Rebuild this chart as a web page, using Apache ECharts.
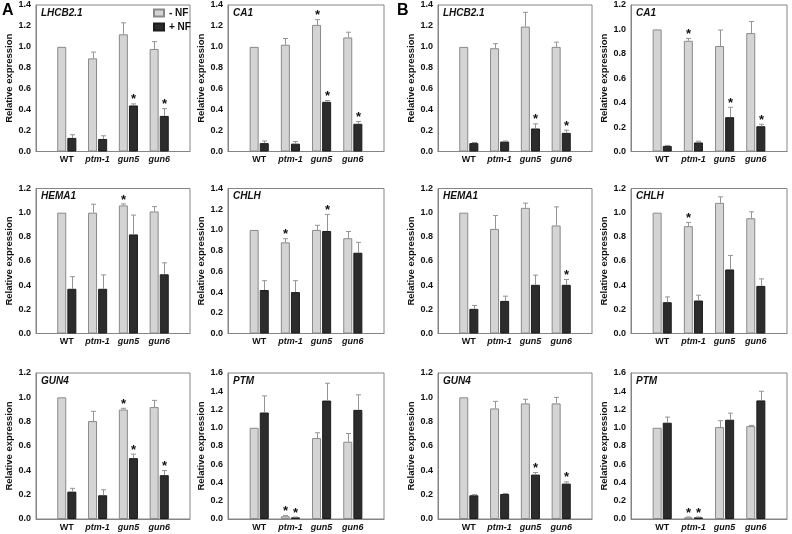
<!DOCTYPE html>
<html><head><meta charset="utf-8">
<script src="https://cdn.jsdelivr.net/npm/echarts@6/dist/echarts.min.js"></script>
<style>html,body{margin:0;padding:0;background:#fff}#c{width:792px;height:534px}</style>
</head><body><div id="c"></div>
<script>
const categories = ['WT', 'ptm-1', 'gun5', 'gun6'];
const seriesNames = ['- NF', '+ NF'];

// ---------- Panel A ----------
const A_LHCB21_minusNF = [1.00, 0.89, 1.12, 0.98];
const A_LHCB21_minusNF_err = [0, 0.06, 0.11, 0.07];
const A_LHCB21_plusNF = [0.13, 0.12, 0.44, 0.34];
const A_LHCB21_plusNF_err = [0.03, 0.03, 0.015, 0.07];
const A_LHCB21_star_minusNF = [0, 0, 0, 0];
const A_LHCB21_star_plusNF = [0, 0, 1, 1];

const A_CA1_minusNF = [1.00, 1.02, 1.21, 1.09];
const A_CA1_minusNF_err = [0, 0.06, 0.05, 0.05];
const A_CA1_plusNF = [0.08, 0.075, 0.475, 0.265];
const A_CA1_plusNF_err = [0.02, 0.02, 0.012, 0.022];
const A_CA1_star_minusNF = [0, 0, 1, 0];
const A_CA1_star_plusNF = [0, 0, 1, 1];

const A_HEMA1_minusNF = [1.00, 1.00, 1.06, 1.01];
const A_HEMA1_minusNF_err = [0, 0.07, 0.012, 0.04];
const A_HEMA1_plusNF = [0.37, 0.37, 0.82, 0.49];
const A_HEMA1_plusNF_err = [0.10, 0.115, 0.16, 0.095];
const A_HEMA1_star_minusNF = [0, 0, 1, 0];
const A_HEMA1_star_plusNF = [0, 0, 0, 0];

const A_CHLH_minusNF = [1.00, 0.88, 1.00, 0.92];
const A_CHLH_minusNF_err = [0, 0.035, 0.045, 0.065];
const A_CHLH_plusNF = [0.42, 0.40, 0.99, 0.78];
const A_CHLH_plusNF_err = [0.09, 0.11, 0.16, 0.10];
const A_CHLH_star_minusNF = [0, 1, 0, 0];
const A_CHLH_star_plusNF = [0, 0, 1, 0];

const A_GUN4_minusNF = [1.00, 0.805, 0.90, 0.92];
const A_GUN4_minusNF_err = [0, 0.08, 0.01, 0.055];
const A_GUN4_plusNF = [0.225, 0.195, 0.50, 0.36];
const A_GUN4_plusNF_err = [0.027, 0.045, 0.033, 0.038];
const A_GUN4_star_minusNF = [0, 0, 1, 0];
const A_GUN4_star_plusNF = [0, 0, 1, 1];

const A_PTM_minusNF = [1.00, 0.03, 0.887, 0.847];
const A_PTM_minusNF_err = [0, 0.007, 0.058, 0.09];
const A_PTM_plusNF = [1.167, 0.018, 1.298, 1.196];
const A_PTM_plusNF_err = [0.182, 0.004, 0.19, 0.165];
const A_PTM_star_minusNF = [0, 1, 0, 0];
const A_PTM_star_plusNF = [0, 1, 0, 0];

// ---------- Panel B ----------
const B_LHCB21_minusNF = [1.00, 0.987, 1.194, 1.00];
const B_LHCB21_minusNF_err = [0, 0.043, 0.136, 0.045];
const B_LHCB21_plusNF = [0.08, 0.095, 0.22, 0.178];
const B_LHCB21_plusNF_err = [0.006, 0.005, 0.044, 0.026];
const B_LHCB21_star_minusNF = [0, 0, 0, 0];
const B_LHCB21_star_plusNF = [0, 0, 1, 1];

const B_CA1_minusNF = [1.00, 0.907, 0.864, 0.97];
const B_CA1_minusNF_err = [0, 0.019, 0.131, 0.095];
const B_CA1_plusNF = [0.046, 0.074, 0.281, 0.207];
const B_CA1_plusNF_err = [0.004, 0.01, 0.081, 0.016];
const B_CA1_star_minusNF = [0, 1, 0, 0];
const B_CA1_star_plusNF = [0, 0, 1, 1];

const B_HEMA1_minusNF = [1.00, 0.866, 1.04, 0.894];
const B_HEMA1_minusNF_err = [0, 0.111, 0.039, 0.154];
const B_HEMA1_plusNF = [0.204, 0.27, 0.403, 0.403];
const B_HEMA1_plusNF_err = [0.028, 0.039, 0.08, 0.044];
const B_HEMA1_star_minusNF = [0, 0, 0, 0];
const B_HEMA1_star_plusNF = [0, 0, 0, 1];

const B_CHLH_minusNF = [1.00, 0.888, 1.081, 0.954];
const B_CHLH_minusNF_err = [0, 0.031, 0.05, 0.053];
const B_CHLH_plusNF = [0.259, 0.273, 0.53, 0.394];
const B_CHLH_plusNF_err = [0.044, 0.044, 0.116, 0.058];
const B_CHLH_star_minusNF = [0, 1, 0, 0];
const B_CHLH_star_plusNF = [0, 0, 0, 0];

const B_GUN4_minusNF = [1.00, 0.909, 0.95, 0.95];
const B_GUN4_minusNF_err = [0, 0.058, 0.034, 0.05];
const B_GUN4_plusNF = [0.195, 0.206, 0.365, 0.291];
const B_GUN4_plusNF_err = [0.005, 0.004, 0.017, 0.014];
const B_GUN4_star_minusNF = [0, 0, 0, 0];
const B_GUN4_star_plusNF = [0, 0, 1, 1];

const B_PTM_minusNF = [1.00, 0.018, 1.007, 1.018];
const B_PTM_minusNF_err = [0, 0.004, 0.07, 0.008];
const B_PTM_plusNF = [1.055, 0.018, 1.088, 1.30];
const B_PTM_plusNF_err = [0.062, 0.004, 0.072, 0.10];
const B_PTM_star_minusNF = [0, 1, 0, 0];
const B_PTM_star_plusNF = [0, 1, 0, 0];

// panel definitions: [title, ymax, minus, minusErr, plus, plusErr, starMinus, starPlus, col, row]
const panels = [
  ['LHCB2.1', 1.4, A_LHCB21_minusNF, A_LHCB21_minusNF_err, A_LHCB21_plusNF, A_LHCB21_plusNF_err, A_LHCB21_star_minusNF, A_LHCB21_star_plusNF, 0, 0],
  ['CA1', 1.4, A_CA1_minusNF, A_CA1_minusNF_err, A_CA1_plusNF, A_CA1_plusNF_err, A_CA1_star_minusNF, A_CA1_star_plusNF, 1, 0],
  ['HEMA1', 1.2, A_HEMA1_minusNF, A_HEMA1_minusNF_err, A_HEMA1_plusNF, A_HEMA1_plusNF_err, A_HEMA1_star_minusNF, A_HEMA1_star_plusNF, 0, 1],
  ['CHLH', 1.4, A_CHLH_minusNF, A_CHLH_minusNF_err, A_CHLH_plusNF, A_CHLH_plusNF_err, A_CHLH_star_minusNF, A_CHLH_star_plusNF, 1, 1],
  ['GUN4', 1.2, A_GUN4_minusNF, A_GUN4_minusNF_err, A_GUN4_plusNF, A_GUN4_plusNF_err, A_GUN4_star_minusNF, A_GUN4_star_plusNF, 0, 2],
  ['PTM', 1.6, A_PTM_minusNF, A_PTM_minusNF_err, A_PTM_plusNF, A_PTM_plusNF_err, A_PTM_star_minusNF, A_PTM_star_plusNF, 1, 2],
  ['LHCB2.1', 1.4, B_LHCB21_minusNF, B_LHCB21_minusNF_err, B_LHCB21_plusNF, B_LHCB21_plusNF_err, B_LHCB21_star_minusNF, B_LHCB21_star_plusNF, 2, 0],
  ['CA1', 1.2, B_CA1_minusNF, B_CA1_minusNF_err, B_CA1_plusNF, B_CA1_plusNF_err, B_CA1_star_minusNF, B_CA1_star_plusNF, 3, 0],
  ['HEMA1', 1.2, B_HEMA1_minusNF, B_HEMA1_minusNF_err, B_HEMA1_plusNF, B_HEMA1_plusNF_err, B_HEMA1_star_minusNF, B_HEMA1_star_plusNF, 2, 1],
  ['CHLH', 1.2, B_CHLH_minusNF, B_CHLH_minusNF_err, B_CHLH_plusNF, B_CHLH_plusNF_err, B_CHLH_star_minusNF, B_CHLH_star_plusNF, 3, 1],
  ['GUN4', 1.2, B_GUN4_minusNF, B_GUN4_minusNF_err, B_GUN4_plusNF, B_GUN4_plusNF_err, B_GUN4_star_minusNF, B_GUN4_star_plusNF, 2, 2],
  ['PTM', 1.6, B_PTM_minusNF, B_PTM_minusNF_err, B_PTM_plusNF, B_PTM_plusNF_err, B_PTM_star_minusNF, B_PTM_star_plusNF, 3, 2]
];

// ---------- layout (pixels) ----------
const colX = [[36, 190], [228, 384], [438, 592], [631, 787]];
const rowY = [[5, 151.5], [188.5, 333.5], [373, 519]];
const nameGaps = [18, 19, 13, 11];
const FONT = "'Liberation Sans', Arial, sans-serif";
const BAR_W = 9, BAR_GAP = 1.1;
const LIGHT = '#d4d4d4', LIGHT_BORDER = '#8a8a8a', DARK = '#2c2c2c', DARK_BORDER = '#1c1c1c', ERR = '#959595';

const chart = echarts.init(document.getElementById('c'), null, { renderer: 'canvas' });
const xCats = [''].concat(categories, ['']);
const pad = arr => ['-'].concat(arr, ['-']);

function errRender(offset) {
  return function (params, api) {
    const xi = api.value(0), v = api.value(1), e = api.value(2), s = api.value(3);
    const base = api.coord([xi, v]);
    const top = api.coord([xi, v + e]);
    const cx = Math.round(base[0] + offset) + 0.5;
    const children = [];
    if (e > 0) {
      children.push({ type: 'line', shape: { x1: cx, y1: base[1], x2: cx, y2: top[1] }, style: { stroke: ERR, lineWidth: 1 } });
      children.push({ type: 'line', shape: { x1: cx - 2.5, y1: top[1], x2: cx + 2.5, y2: top[1] }, style: { stroke: ERR, lineWidth: 1 } });
    }
    if (s) {
      children.push({ type: 'text', style: { text: '*', x: cx, y: top[1] - 4, align: 'center', verticalAlign: 'middle', font: 'bold 13px ' + FONT, fill: '#111' } });
    }
    return { type: 'group', children };
  };
}

const grid = [], xAxis = [], yAxis = [], series = [], title = [];
panels.forEach((p, i) => {
  const [name, ymax, mi, miE, pl, plE, sMi, sPl, col, row] = p;
  const [x0, x1] = colX[col], [y0, y1] = rowY[row];
  grid.push({ left: x0, top: y0, width: x1 - x0, height: y1 - y0, show: true, borderColor: '#858585', borderWidth: 1, containLabel: false });
  xAxis.push({
    gridIndex: i, type: 'category', data: xCats, boundaryGap: false,
    axisLine: { show: true, lineStyle: { color: '#858585' } }, axisTick: { show: false },
    axisLabel: {
      interval: 0, margin: 4,
      formatter: v => v === '' ? '' : (v === 'WT' ? '{n|WT}' : '{i|' + v + '}'),
      rich: {
        n: { fontFamily: FONT, fontWeight: 'bold', fontSize: 9, color: '#111' },
        i: { fontFamily: FONT, fontWeight: 'bold', fontStyle: 'italic', fontSize: 9, color: '#111' }
      }
    },
    splitLine: { show: false }
  });
  yAxis.push({
    gridIndex: i, type: 'value', min: 0, max: ymax, interval: 0.2,
    name: 'Relative expression', nameLocation: 'middle', nameGap: nameGaps[col],
    nameTextStyle: { fontFamily: FONT, fontWeight: 'bold', fontSize: 9.5, color: '#111' },
    axisLine: { show: true, lineStyle: { color: '#858585' } }, axisTick: { show: false },
    axisLabel: { formatter: v => v.toFixed(1), fontFamily: FONT, fontWeight: 'bold', fontSize: 9, color: '#111', margin: 5 },
    splitLine: { show: false }
  });
  title.push({ text: name, left: x0 + 5, top: y0 + 3, padding: 0,
    textStyle: { fontFamily: FONT, fontWeight: 'bold', fontStyle: 'italic', fontSize: 10, color: '#111' } });
  series.push({ name: seriesNames[0], type: 'bar', xAxisIndex: i, yAxisIndex: i, data: pad(mi), barWidth: BAR_W, barGap: (BAR_GAP / BAR_W * 100) + '%',
    itemStyle: { color: LIGHT, borderColor: LIGHT_BORDER, borderWidth: 1 }, animation: false });
  series.push({ name: seriesNames[1], type: 'bar', xAxisIndex: i, yAxisIndex: i, data: pad(pl), barWidth: BAR_W, barGap: (BAR_GAP / BAR_W * 100) + '%',
    itemStyle: { color: DARK, borderColor: DARK_BORDER, borderWidth: 1 }, animation: false });
  const off = (BAR_W + BAR_GAP) / 2;
  series.push({ type: 'custom', xAxisIndex: i, yAxisIndex: i, renderItem: errRender(-off), animation: false, z: 5,
    data: mi.map((v, k) => [k + 1, v, miE[k], sMi[k]]) });
  series.push({ type: 'custom', xAxisIndex: i, yAxisIndex: i, renderItem: errRender(off), animation: false, z: 5,
    data: pl.map((v, k) => [k + 1, v, plE[k], sPl[k]]) });
});

title.push({ text: 'A', left: 2, top: 3, padding: 0, textStyle: { fontFamily: FONT, fontWeight: 'bold', fontSize: 16, color: '#000' } });
title.push({ text: 'B', left: 397, top: 3, padding: 0, textStyle: { fontFamily: FONT, fontWeight: 'bold', fontSize: 16, color: '#000' } });

chart.setOption({
  backgroundColor: '#fff',
  animation: false,
  title, grid, xAxis, yAxis, series,
  legend: {
    data: seriesNames, orient: 'vertical', left: 153, top: 8, padding: 0,
    itemWidth: 10, itemHeight: 7, itemGap: 4, icon: 'rect', selectedMode: false,
    textStyle: { fontFamily: FONT, fontWeight: 'bold', fontSize: 10, color: '#111' }
  }
});
</script></body></html>
